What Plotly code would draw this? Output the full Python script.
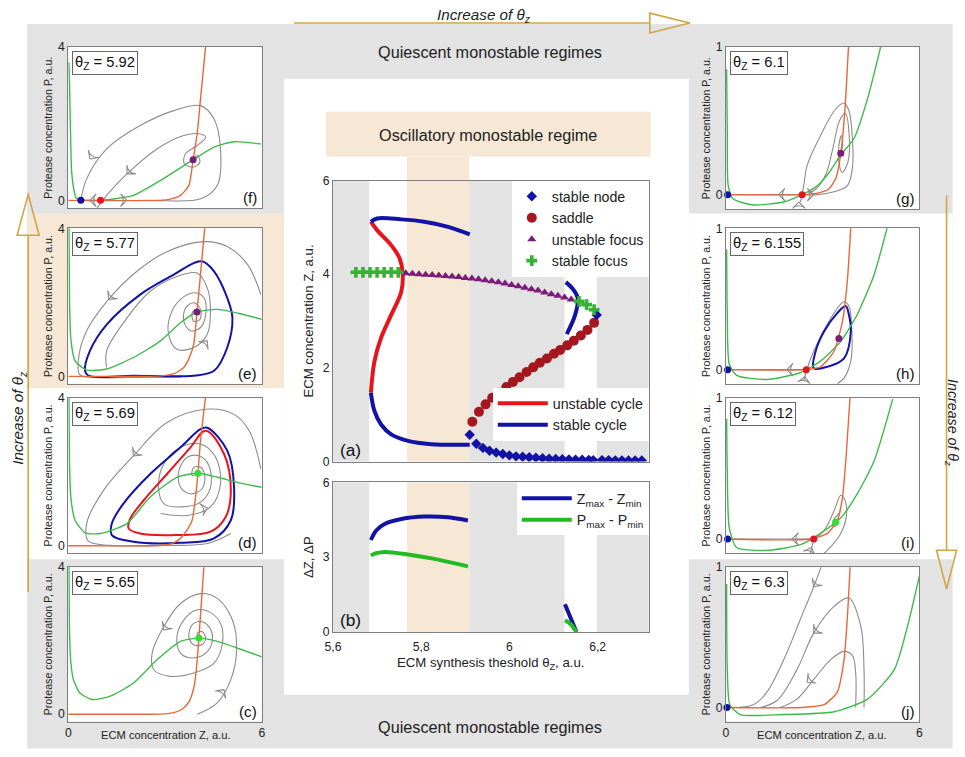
import plotly.graph_objects as go

# ---------------- (a) bifurcation diagram ----------------
theta_node = [5.91, 5.925, 5.94, 5.955, 5.97, 5.985, 6.0, 6.015, 6.03, 6.045, 6.06, 6.075, 6.09, 6.105,
              6.12, 6.135, 6.15, 6.165, 6.18, 6.19, 6.21, 6.225, 6.24, 6.255, 6.27, 6.285, 6.30, 6.198]
Z_node = [0.57, 0.38, 0.29, 0.23, 0.19, 0.16, 0.13, 0.11, 0.10, 0.09, 0.08, 0.07, 0.06, 0.055,
          0.05, 0.045, 0.04, 0.04, 0.035, 0.03, 0.03, 0.03, 0.025, 0.025, 0.02, 0.02, 0.02, 3.13]
theta_saddle = [5.916, 5.931, 5.946, 5.961, 5.977, 5.993, 6.008, 6.023, 6.039, 6.054, 6.069, 6.085,
                6.101, 6.115, 6.131, 6.146, 6.162, 6.177, 6.192]
Z_saddle = [0.85, 1.06, 1.22, 1.36, 1.47, 1.59, 1.70, 1.80, 1.91, 2.01, 2.11, 2.20, 2.30, 2.38, 2.48,
            2.58, 2.69, 2.81, 2.96]
theta_ufocus = [5.765, 5.78, 5.795, 5.81, 5.825, 5.84, 5.855, 5.87, 5.885, 5.90, 5.915, 5.93, 5.945,
                5.96, 5.975, 5.99, 6.005, 6.02, 6.035, 6.05, 6.065, 6.08, 6.095, 6.11, 6.125, 6.14]
Z_ufocus = [4.02, 4.01, 4.0, 3.99, 3.98, 3.97, 3.96, 3.95, 3.94, 3.92, 3.91, 3.89, 3.87, 3.85, 3.83,
            3.80, 3.77, 3.74, 3.71, 3.68, 3.65, 3.61, 3.57, 3.54, 3.50, 3.46]
theta_sfocus = [5.652, 5.668, 5.684, 5.700, 5.716, 5.732, 5.748, 6.158, 6.175, 6.192]
Z_sfocus = [4.04, 4.04, 4.04, 4.04, 4.04, 4.04, 4.04, 3.42, 3.35, 3.24]
theta_scycle = [5.686, 5.70, 5.755, 5.807, 5.861, 5.91, None,
                5.686, 5.694, 5.709, 5.732, 5.77, 5.823, 5.91, None,
                6.128, 6.145, 6.155, 6.149, 6.13]
Z_scycle = [5.12, 5.19, 5.17, 5.12, 5.01, 4.85, None,
            1.47, 1.08, 0.79, 0.58, 0.44, 0.37, 0.36, None,
            3.83, 3.67, 3.49, 3.13, 2.72]
theta_ucycle = [5.686, 5.70, 5.732, 5.751, 5.758, 5.755, 5.732, 5.709, 5.694, 5.686]
Z_ucycle = [5.12, 4.94, 4.62, 4.34, 4.02, 3.63, 3.13, 2.64, 2.14, 1.47]

# ---------------- (b) amplitudes ----------------
theta_dZ = [5.686, 5.698, 5.717, 5.755, 5.808, 5.861, 5.906, None, 6.126, 6.141, 6.152]
dZ = [3.69, 4.07, 4.33, 4.53, 4.63, 4.60, 4.47, None, 1.11, 0.47, 0.0]
theta_dP = [5.686, 5.698, 5.717, 5.77, 5.83, 5.906, None, 6.126, 6.138, 6.152]
dP = [3.07, 3.16, 3.21, 3.11, 2.93, 2.63, None, 0.47, 0.33, 0.0]

# regime boundaries on theta axis
gray_regimes = [(5.6, 5.682), (5.909, 6.125), (6.198, 6.316)]
beige_regime = (5.768, 5.909)
theta_ticks = [5.6, 5.8, 6.0, 6.2]
theta_ticktext = ["5,6", "5,8", "6", "6,2"]

# ---------------- phase portraits ----------------
# (c) theta = 5.65
c_orange_Z = [0, 2.5, 3.0, 3.3, 3.55, 3.75, 3.9, 3.97, 4.05, 4.22]
c_orange_P = [0, 0, 0.01, 0.05, 0.15, 0.35, 0.75, 1.21, 2.07, 4.2]
c_green_Z = [0.02, 0.04, 0.08, 0.16, 0.36, 0.73, 1.3, 2.02, 2.75, 3.48, 4.05, 4.62, 5.3, 6.0]
c_green_P = [4.2, 2.2, 1.4, 0.94, 0.58, 0.40, 0.49, 0.85, 1.48, 1.98, 2.07, 1.98, 1.78, 1.56]
c_traj_Z = [4.0, 4.62, 5.04, 5.22, 5.09, 4.62, 4.10, 3.48, 2.96, 2.60, 2.65, 3.17, 3.89, 4.52, 4.78,
            4.72, 4.36, 3.95, 3.58, 3.37, 3.48, 3.84, 4.26, 4.47, 4.36, 4.10, 3.84, 3.74, 3.89, 4.15,
            4.26, 4.15, 4.0, 4.05]
c_traj_P = [0, 0.31, 0.94, 1.75, 2.56, 3.15, 3.28, 3.01, 2.38, 1.66, 1.21, 1.03, 1.12, 1.39, 1.93,
            2.47, 2.79, 2.83, 2.56, 2.11, 1.66, 1.53, 1.66, 2.02, 2.38, 2.52, 2.43, 2.11, 1.89, 1.89,
            2.07, 2.25, 2.20, 2.07]
c_fixed_Z = [4.05]
c_fixed_P = [2.07]
c_arrow_Z = [4.83, 2.96]
c_arrow_P = [0.67, 2.29]
c_arrow_ang = [35, 215]

# (d) theta = 5.69
d_orange_Z = [0, 2.5, 2.96, 3.25, 3.48, 3.7, 3.84, 3.93, 4.02, 4.1, 4.28]
d_orange_P = [0, 0, 0.02, 0.07, 0.2, 0.45, 0.69, 1.2, 1.96, 2.84, 4.2]
d_green_Z = [0.02, 0.04, 0.08, 0.21, 0.52, 0.99, 1.82, 2.54, 3.37, 4.02, 4.62, 5.3, 6.0]
d_green_P = [4.2, 2.2, 1.3, 0.69, 0.35, 0.33, 0.6, 1.32, 1.85, 1.96, 1.85, 1.7, 1.58]
d_scycle_Z = [4.31, 4.93, 5.14, 5.04, 4.52, 3.48, 2.02, 1.35, 1.35, 1.71, 2.54, 3.48, 4.10, 4.31]
d_scycle_P = [3.19, 2.57, 1.58, 0.69, 0.20, 0.08, 0.11, 0.29, 0.60, 1.14, 1.94, 2.66, 3.15, 3.19]
d_ucycle_Z = [4.26, 4.83, 5.04, 4.88, 4.41, 3.37, 2.23, 1.87, 1.92, 2.34, 3.06, 3.79, 4.26]
d_ucycle_P = [3.11, 2.48, 1.49, 0.78, 0.38, 0.29, 0.33, 0.47, 0.73, 1.23, 1.94, 2.66, 3.11]
d_traj_Z = [5.97, 5.61, 5.14, 4.26, 3.06, 2.02, 1.09, 0.57, 0.62, 1.30, 3.06, 4.31, 5.04, None,
            2.86, 3.69, 4.41, 4.72, 4.57, 4.10, 3.48, 2.96, 2.80, 2.96, 3.48, 4.10, 4.41, 4.36, 4.05,
            3.69, 3.43, 3.48, 3.79, 4.15, 4.23, 4.10, 3.89, 3.84, 4.02]
d_traj_P = [2.08, 3.11, 3.55, 3.69, 3.33, 2.43, 1.49, 0.60, 0.13, 0.01, 0.01, 0.06, 0.33, None,
            0.87, 0.82, 1.05, 1.67, 2.39, 2.75, 2.66, 2.21, 1.58, 1.14, 1.05, 1.18, 1.58, 2.17, 2.43,
            2.39, 2.03, 1.58, 1.40, 1.54, 1.90, 2.12, 2.12, 1.90, 1.96]
d_fixed_Z = [4.02]
d_fixed_P = [1.96]
d_arrow_Z = [2.02, 4.31]
d_arrow_P = [2.43, 1.02]
d_arrow_ang = [220, 75]

# (e) theta = 5.77
e_orange_Z = [0, 2.5, 2.96, 3.3, 3.58, 3.75, 3.89, 3.99, 4.1, 4.25]
e_orange_P = [0, 0, 0.02, 0.08, 0.24, 0.5, 0.87, 1.74, 2.75, 4.2]
e_green_Z = [0.02, 0.04, 0.08, 0.21, 0.57, 1.19, 2.02, 2.86, 3.48, 3.99, 4.62, 5.3, 6.0]
e_green_P = [4.2, 2.0, 1.0, 0.42, 0.17, 0.2, 0.51, 0.96, 1.45, 1.74, 1.81, 1.7, 1.54]
e_scycle_Z = [4.15, 4.52, 4.93, 5.09, 4.93, 4.52, 3.89, 2.02, 0.62, 0.52, 0.67, 1.19, 2.23, 3.27, 3.89, 4.15]
e_scycle_P = [3.11, 2.84, 2.12, 1.58, 0.78, 0.15, 0.02, 0.02, 0.02, 0.15, 0.69, 1.40, 2.21, 2.75, 3.06, 3.11]
e_traj_Z = [5.97, 5.56, 4.93, 4.21, 3.06, 2.13, 1.25, 0.57, 0.31, 0.36, 0.8, 2.0, 3.5, None,
            1.19, 1.19, 1.82, 2.54, 3.37, 4.0, 4.31, 4.41, 4.31, 3.89, 3.37, 3.11, 3.17, 3.48, 3.89,
            4.21, 4.26, 4.10, 3.79, 3.58, 3.64, 3.89, 4.10, 4.08, 3.89, 3.84, 4.0, 3.99]
e_traj_P = [2.21, 3.02, 3.51, 3.64, 3.37, 2.84, 2.08, 1.23, 0.42, 0.04, -0.03, -0.03, -0.02, None,
            0.24, 0.69, 1.58, 2.30, 2.70, 2.79, 2.39, 1.76, 1.14, 0.78, 0.73, 1.14, 1.67, 2.08, 2.26,
            2.12, 1.67, 1.32, 1.23, 1.49, 1.85, 1.99, 1.81, 1.54, 1.49, 1.72, 1.81, 1.74]
e_fixed_Z = [3.99]
e_fixed_P = [1.74]
e_arrow_Z = [1.25, 4.31]
e_arrow_P = [2.08, 0.96]
e_arrow_ang = [220, 40]

# (f) theta = 5.92
f_orange_Z = [0, 2.8, 3.2, 3.48, 3.74, 3.87, 4.0, 4.1, 4.28]
f_orange_P = [0, 0, 0.04, 0.13, 0.39, 1.06, 1.77, 2.64, 4.2]
f_green_Z = [0.02, 0.04, 0.07, 0.1, 0.18, 0.26, 0.99, 2.02, 2.86, 3.87, 4.52, 5.14, 5.97]
f_green_P = [3.6, 3.0, 1.77, 0.8, 0.25, 0.04, 0.0, 0.13, 0.52, 1.06, 1.39, 1.53, 1.47]
f_traj_Z = [1.0, 2.54, 4.10, 4.62, 4.72, 4.52, 4.10, 3.27, 2.23, 1.19, 0.57, 0.39, None,
            3.87, 4.0, 4.08, 3.89, 3.60, 3.63, 4.0, 4.26, 4.10, 3.58, 2.75, 1.82, 1.19, 0.88, None,
            1.0, 0.39]
f_traj_P = [0, 0, 0.04, 0.39, 1.34, 2.12, 2.47, 2.34, 1.95, 1.34, 0.56, 0.0, None,
            1.06, 1.17, 1.0, 0.87, 0.95, 1.21, 1.43, 1.65, 1.73, 1.69, 1.34, 0.69, 0.13, -0.22, None,
            0, 0]
f_fixed_Z = [0.39, 1.0, 3.87]
f_fixed_P = [0, 0, 1.06]
f_fixed_kind = ["node", "saddle", "ufocus"]
f_arrow_Z = [0.67, 1.82, 0.67, 1.82]
f_arrow_P = [1.08, 0.69, 0.0, 0.0]
f_arrow_ang = [215, 225, 270, 90]

# (g) theta = 6.1
g_orange_Z = [0, 2.31, 2.83, 3.2, 3.42, 3.56, 3.68, 3.81]
g_orange_P = [0, 0, 0.01, 0.04, 0.12, 0.28, 0.55, 1.05]
g_green_Z = [0.02, 0.04, 0.07, 0.23, 0.85, 1.79, 2.36, 2.83, 3.2, 3.56, 3.97, 4.39, 4.85]
g_green_P = [0.85, 0.42, 0.06, -0.03, -0.07, -0.05, 0.0, 0.06, 0.15, 0.27, 0.38, 0.65, 1.05]
g_traj_Z = [2.36, 2.83, 3.35, 3.76, 3.92, 3.92, 3.81, 3.66, 3.40, 2.93, 2.52, 2.41, 2.31, None,
            3.56, 3.62, 3.58, 3.50, 3.50, 3.60, 3.78, 3.82, 3.70, 3.52, 3.30, 3.10, 2.80, 2.55, None,
            2.36, 0.05]
g_traj_P = [0, 0, 0.02, 0.06, 0.18, 0.38, 0.57, 0.62, 0.58, 0.40, 0.20, 0.06, -0.05, None,
            0.28, 0.34, 0.40, 0.33, 0.22, 0.15, 0.22, 0.40, 0.55, 0.50, 0.30, 0.14, 0.04, 0.01, None,
            0, 0]
g_fixed_Z = [0.05, 2.36, 3.56]
g_fixed_P = [0, 0, 0.28]
g_fixed_kind = ["node", "saddle", "ufocus"]
g_arrow_Z = [1.63, 2.72, 2.26]
g_arrow_P = [0, 0, -0.05]
g_arrow_ang = [270, 90, 0]

# (h) theta = 6.155
h_orange_Z = [0, 2.41, 2.93, 3.35, 3.61, 3.76, 3.88]
h_orange_P = [0, 0, 0.02, 0.13, 0.34, 0.62, 1.05]
h_green_Z = [0.02, 0.04, 0.10, 0.33, 1.27, 2.31, 2.93, 3.56, 4.07, 4.59, 5.05]
h_green_P = [0.85, 0.39, 0.04, -0.04, -0.07, -0.02, 0.06, 0.20, 0.39, 0.67, 1.05]
h_scycle_Z = [2.72, 3.14, 3.66, 3.87, 3.81, 3.71, 3.45, 3.04, 2.78, 2.72]
h_scycle_P = [0.01, 0.02, 0.08, 0.27, 0.39, 0.45, 0.40, 0.27, 0.13, 0.01]
h_traj_Z = [2.41, 2.52, 2.72, 3.24, 3.66, 3.81, 3.90, 3.87, 3.66, 3.45, None, 2.49, 0.05]
h_traj_P = [-0.08, 0.01, 0.13, 0.36, 0.48, 0.45, 0.29, 0.06, -0.06, -0.1, None, 0, 0]
h_fixed_Z = [0.05, 2.49, 3.50]
h_fixed_P = [0, 0, 0.22]
h_fixed_kind = ["node", "saddle", "ufocus"]
h_arrow_Z = [1.88, 2.45]
h_arrow_P = [0, -0.05]
h_arrow_ang = [270, 10]

# (i) theta = 6.12
i_orange_Z = [0, 2.62, 3.14, 3.45, 3.61, 3.73, 3.86]
i_orange_P = [0, 0, 0.04, 0.13, 0.29, 0.60, 1.05]
i_green_Z = [0.02, 0.04, 0.10, 0.33, 1.27, 2.31, 2.93, 3.56, 4.07, 4.59, 5.17]
i_green_P = [0.85, 0.48, 0.08, -0.06, -0.08, -0.04, 0.04, 0.15, 0.32, 0.55, 0.99]
i_traj_Z = [2.72, 3.04, 3.35, 3.56, 3.66, 3.74, 3.56, 3.14, 3.04, None, 2.72, 0.05, None,
            2.62, 2.72, None, 3.56, 3.50, 3.35, 3.32, 3.45, 3.48, 3.40]
i_traj_P = [0, 0.06, 0.20, 0.31, 0.29, 0.18, 0.04, -0.08, -0.1, None, 0, 0, None,
            -0.1, 0, None, 0.22, 0.18, 0.14, 0.09, 0.10, 0.14, 0.12]
i_fixed_Z = [0.05, 2.72, 3.40]
i_fixed_P = [0, 0, 0.12]
i_fixed_kind = ["node", "saddle", "sfocus"]
i_arrow_Z = [2.05, 2.65]
i_arrow_P = [0, -0.06]
i_arrow_ang = [270, 20]

# (j) theta = 6.3
j_orange_Z = [0, 2.31, 3.04, 3.45, 3.66, 3.76, 3.86]
j_orange_P = [0, 0, 0.02, 0.11, 0.34, 0.63, 1.05]
j_green_Z = [0.02, 0.04, 0.12, 0.44, 1.79, 3.35, 4.39, 5.22, 5.63, 6.0]
j_green_P = [0.88, 0.27, 0.02, -0.05, -0.05, -0.03, 0.06, 0.27, 0.58, 0.94]
j_traj_Z = [2.95, 2.72, 2.31, 1.79, 1.27, 0.85, 0.03, None,
            4.28, 4.28, 4.18, 3.81, 3.35, 2.72, 2.20, 1.58, 1.06, None,
            4.02, 4.02, 3.92, 3.66, 3.24, 2.72, 2.20, 1.68]
j_traj_P = [1.0, 0.86, 0.63, 0.34, 0.11, 0.02, 0, None,
            0, 0.27, 0.58, 0.78, 0.72, 0.53, 0.27, 0.05, 0, None,
            0, 0.25, 0.37, 0.40, 0.34, 0.20, 0.06, 0]
j_fixed_Z = [0.03]
j_fixed_P = [0]
j_fixed_kind = ["node"]
j_arrow_Z = [2.72, 2.72, 2.52]
j_arrow_P = [0.86, 0.53, 0.18]
j_arrow_ang = [215, 225, 230]

panel_theta = {"c": "5.65", "d": "5.69", "e": "5.77", "f": "5.92",
               "g": "6.1", "h": "6.155", "i": "6.12", "j": "6.3"}

# ---------------- styling / layout helpers ----------------
FONT = "Liberation Sans, Arial, sans-serif"
W, H = 965, 757
# the photographed page shows the figure behind the default 8px body margin and
# slightly reduced; window-pixel positions are mapped back to figure pixels
OFF = 8
SCALE = 0.985
BLUE = "#1212a6"
RED = "#e8141c"
DRED = "#a5171f"
PURPLE = "#7b1c7b"
GREENM = "#36b236"
GREENL = "#22bb22"
NGREEN = "#3dbb4a"
ORANGE = "#e8673a"
GRAY = "#8c8c8c"
GOLD = "#d2a547"
BGGRAY = "#e3e3e3"
BEIGE = "#f6e8d4"


def fx(p):
    return (p / SCALE - OFF) / W


def fy(p):
    return 1 - (p / SCALE - OFF) / H


def fs(s):
    return s / SCALE


# panel name -> (axis number, left, right, top, bottom) in window pixels
BOX = {
    "a": (1, 332, 647, 182, 464),
    "b": (2, 332, 647, 485, 635),
    "f": (3, 68, 261, 48, 210),
    "e": (4, 68, 261, 230, 386),
    "d": (5, 68, 261, 400, 556),
    "c": (6, 68, 261, 570, 725),
    "g": (7, 724, 917, 48, 211),
    "h": (8, 724, 917, 230, 386),
    "i": (9, 724, 917, 400, 556),
    "j": (10, 724, 917, 570, 725),
}


def axn(n):
    return ("x" if n == 1 else f"x{n}", "y" if n == 1 else f"y{n}")


fig = go.Figure()


def add(panel, **kw):
    xa, ya = axn(BOX[panel][0])
    kw.setdefault("showlegend", False)
    kw.setdefault("hoverinfo", "skip")
    fig.add_trace(go.Scatter(xaxis=xa, yaxis=ya, **kw))


# ---- panel (a) ----
add("a", x=theta_ucycle, y=Z_ucycle, mode="lines", line=dict(color=RED, width=4, shape="spline"),
    name="unstable cycle", showlegend=True, legend="legend2", legendrank=1)
add("a", x=theta_scycle, y=Z_scycle, mode="lines", line=dict(color=BLUE, width=4, shape="spline"),
    name="stable cycle", showlegend=True, legend="legend2", legendrank=2, connectgaps=False)
add("a", x=theta_saddle, y=Z_saddle, mode="markers", marker=dict(symbol="circle", size=10, color=DRED),
    name="saddle", showlegend=True, legend="legend", legendrank=2)
add("a", x=theta_node, y=Z_node, mode="markers", marker=dict(symbol="diamond", size=8, color=BLUE),
    name="stable node", showlegend=True, legend="legend", legendrank=1)
add("a", x=theta_ufocus, y=Z_ufocus, mode="markers",
    marker=dict(symbol="triangle-up", size=8, color=PURPLE),
    name="unstable focus", showlegend=True, legend="legend", legendrank=3)
add("a", x=theta_sfocus, y=Z_sfocus, mode="markers", marker=dict(symbol="cross", size=9, color=GREENM),
    name="stable focus", showlegend=True, legend="legend", legendrank=4)

# ---- panel (b) ----
add("b", x=theta_dZ, y=dZ, mode="lines", line=dict(color=BLUE, width=4, shape="spline"),
    name="Z<sub>max</sub> - Z<sub>min</sub>", showlegend=True, legend="legend3", legendrank=1)
add("b", x=theta_dP, y=dP, mode="lines", line=dict(color=GREENL, width=4, shape="spline"),
    name="P<sub>max</sub> - P<sub>min</sub>", showlegend=True, legend="legend3", legendrank=2)

# ---- phase portraits ----
FP_COLOR = {"node": BLUE, "saddle": RED, "ufocus": PURPLE, "sfocus": "#33dd33"}
phase = {
    "c": dict(o=(c_orange_Z, c_orange_P), g=(c_green_Z, c_green_P), t=(c_traj_Z, c_traj_P),
              fp=(c_fixed_Z, c_fixed_P, ["sfocus"]), ar=(c_arrow_Z, c_arrow_P, c_arrow_ang)),
    "d": dict(o=(d_orange_Z, d_orange_P), g=(d_green_Z, d_green_P), t=(d_traj_Z, d_traj_P),
              sc=(d_scycle_Z, d_scycle_P), uc=(d_ucycle_Z, d_ucycle_P),
              fp=(d_fixed_Z, d_fixed_P, ["sfocus"]), ar=(d_arrow_Z, d_arrow_P, d_arrow_ang)),
    "e": dict(o=(e_orange_Z, e_orange_P), g=(e_green_Z, e_green_P), t=(e_traj_Z, e_traj_P),
              sc=(e_scycle_Z, e_scycle_P),
              fp=(e_fixed_Z, e_fixed_P, ["ufocus"]), ar=(e_arrow_Z, e_arrow_P, e_arrow_ang)),
    "f": dict(o=(f_orange_Z, f_orange_P), g=(f_green_Z, f_green_P), t=(f_traj_Z, f_traj_P),
              fp=(f_fixed_Z, f_fixed_P, f_fixed_kind), ar=(f_arrow_Z, f_arrow_P, f_arrow_ang)),
    "g": dict(o=(g_orange_Z, g_orange_P), g=(g_green_Z, g_green_P), t=(g_traj_Z, g_traj_P),
              fp=(g_fixed_Z, g_fixed_P, g_fixed_kind), ar=(g_arrow_Z, g_arrow_P, g_arrow_ang)),
    "h": dict(o=(h_orange_Z, h_orange_P), g=(h_green_Z, h_green_P), t=(h_traj_Z, h_traj_P),
              sc=(h_scycle_Z, h_scycle_P),
              fp=(h_fixed_Z, h_fixed_P, h_fixed_kind), ar=(h_arrow_Z, h_arrow_P, h_arrow_ang)),
    "i": dict(o=(i_orange_Z, i_orange_P), g=(i_green_Z, i_green_P), t=(i_traj_Z, i_traj_P),
              fp=(i_fixed_Z, i_fixed_P, i_fixed_kind), ar=(i_arrow_Z, i_arrow_P, i_arrow_ang)),
    "j": dict(o=(j_orange_Z, j_orange_P), g=(j_green_Z, j_green_P), t=(j_traj_Z, j_traj_P),
              fp=(j_fixed_Z, j_fixed_P, j_fixed_kind), ar=(j_arrow_Z, j_arrow_P, j_arrow_ang)),
}

for p, d in phase.items():
    add(p, x=d["t"][0], y=d["t"][1], mode="lines",
        line=dict(color=GRAY, width=1.1, shape="spline", smoothing=1.0), connectgaps=False)
    if "sc" in d:
        add(p, x=d["sc"][0], y=d["sc"][1], mode="lines",
            line=dict(color=BLUE, width=2, shape="spline", smoothing=1.0))
    if "uc" in d:
        add(p, x=d["uc"][0], y=d["uc"][1], mode="lines",
            line=dict(color=RED, width=2, shape="spline", smoothing=1.0))
    add(p, x=d["g"][0], y=d["g"][1], mode="lines",
        line=dict(color=NGREEN, width=1.4, shape="spline", smoothing=0.6))
    add(p, x=d["o"][0], y=d["o"][1], mode="lines",
        line=dict(color=ORANGE, width=1.4, shape="spline", smoothing=0.6))
    add(p, x=d["ar"][0], y=d["ar"][1], mode="markers",
        marker=dict(symbol="arrow-wide-open", size=9, angle=d["ar"][2], color=GRAY,
                    line=dict(color=GRAY, width=1.1)))
    add(p, x=d["fp"][0], y=d["fp"][1], mode="markers", cliponaxis=False,
        marker=dict(symbol="circle", size=7, color=[FP_COLOR[k] for k in d["fp"][2]]))

# ---------------- axes ----------------
layout_axes = {}
common = dict(showline=True, mirror=True, linecolor="#7f7f7f", linewidth=1, showgrid=False,
              zeroline=False, ticks="", tickfont=dict(size=fs(12), color="#222", family=FONT),
              fixedrange=True)
for name, (n, l, r, t, b) in BOX.items():
    xk = "xaxis" if n == 1 else f"xaxis{n}"
    yk = "yaxis" if n == 1 else f"yaxis{n}"
    xa, ya = axn(n)
    xd = dict(common, domain=[fx(l), fx(r)], anchor=ya)
    yd = dict(common, domain=[fy(b), fy(t)], anchor=xa)
    if name in ("a", "b"):
        xd.update(range=[5.6, 6.316], tickvals=theta_ticks, ticktext=theta_ticktext,
                  showticklabels=(name == "b"), ticklabelstandoff=3)
        if name == "a":
            yd.update(range=[0, 6], tickvals=[0, 2, 4, 6],
                      title=dict(text="ECM concentration Z, a.u.",
                                 font=dict(size=fs(13), family=FONT, color="#222"), standoff=6))
        else:
            yd.update(range=[0, 6], tickvals=[0, 3, 6],
                      title=dict(text="ΔZ, ΔP", font=dict(size=fs(13), family=FONT, color="#222"),
                                 standoff=6))
    else:
        left = name in ("c", "d", "e", "f")
        xd.update(range=[0, 6], tickvals=[0, 6], showticklabels=(name in ("c", "j")))
        if left:
            yd.update(range=[-0.2 if name != "f" else -0.21, 4], tickvals=[0, 4])
        else:
            yd.update(range=[-0.1, 1], tickvals=[0, 1])
        yd.update(title=dict(text="Protease concentration P, a.u.",
                             font=dict(size=fs(10.5), family=FONT, color="#222"), standoff=3))
    layout_axes[xk] = xd
    layout_axes[yk] = yd

# ---------------- background shapes ----------------
shapes = []


def rect(x0, y0, x1, y1, color, **kw):
    d = dict(type="rect", xref="paper", yref="paper", x0=fx(x0), x1=fx(x1), y0=fy(y1), y1=fy(y0),
             fillcolor=color, line=dict(width=0), layer="below")
    d.update(kw)
    shapes.append(d)


rect(27, 25, 950, 752, BGGRAY)
rect(283, 80, 687, 698, "white")
rect(27, 390, 283, 562, "white")
rect(687, 215, 950, 562, "white")
rect(27, 215, 283, 390, BEIGE)
rect(325, 113, 649, 158, BEIGE)
# beige column from header into panel (a)
shapes.append(dict(type="rect", xref="x", yref="paper", x0=beige_regime[0], x1=beige_regime[1],
                   y0=fy(464), y1=fy(158), fillcolor=BEIGE, line=dict(width=0), layer="below"))
# white plot areas of phase portraits
for name, (n, l, r, t, b) in BOX.items():
    if name not in ("a", "b"):
        rect(l, t, r, b, "white")
# regime bands inside (a) and (b)
for xa, ya in (("x", "y"), ("x2", "y2")):
    for g0, g1 in gray_regimes:
        shapes.append(dict(type="rect", xref=xa, yref=ya + " domain", x0=g0, x1=g1, y0=0, y1=1,
                           fillcolor=BGGRAY, line=dict(width=0), layer="below"))
shapes.append(dict(type="rect", xref="x2", yref="y2 domain", x0=beige_regime[0], x1=beige_regime[1],
                   y0=0, y1=1, fillcolor=BEIGE, line=dict(width=0), layer="below"))

# arrows "Increase of theta"
def path(pts, closed=True):
    s = "M " + " L ".join(f"{fx(x):.5f},{fy(y):.5f}" for x, y in pts)
    return s + (" Z" if closed else "")


arrow_line = dict(color=GOLD, width=1.6)
shapes += [
    dict(type="line", xref="paper", yref="paper", x0=fx(293), x1=fx(648), y0=fy(24), y1=fy(24), line=arrow_line),
    dict(type="path", xref="paper", yref="paper", path=path([(648, 14), (688, 24), (648, 34)]), line=arrow_line),
    dict(type="line", xref="paper", yref="paper", x0=fx(28), x1=fx(28), y0=fy(595), y1=fy(237), line=arrow_line),
    dict(type="path", xref="paper", yref="paper", path=path([(17, 237), (28, 196), (39, 237)]), line=arrow_line),
    dict(type="line", xref="paper", yref="paper", x0=fx(944), x1=fx(944), y0=fy(197), y1=fy(553), line=arrow_line),
    dict(type="path", xref="paper", yref="paper", path=path([(934, 553), (944, 592), (954, 553)]), line=arrow_line),
]

# ---------------- annotations ----------------
ann = []


def text(x, y, s, size=16, **kw):
    d = dict(xref="paper", yref="paper", x=fx(x), y=fy(y), text=s, showarrow=False,
             xanchor="center", yanchor="middle",
             font=dict(size=fs(size), family=FONT, color="#222"))
    d.update(kw)
    ann.append(d)


text(483, 16, "<i>Increase of θ<sub>z</sub></i>", 15)
text(19, 420, "<i>Increase of θ<sub>z</sub></i>", 15, textangle=-90)
text(950, 425, "<i>Increase of θ<sub>z</sub></i>", 14, textangle=90)
text(489, 53, "Quiescent monostable regimes", 16)
text(489, 730, "Quiescent monostable regimes", 16)
text(487, 136, "Oscillatory monostable regime", 16)
text(489, 667, "ECM synthesis theshold θ<sub>Z</sub>, a.u.", 13)
text(165, 738, "ECM concentration Z, a.u.", 11)
text(820, 738, "ECM concentration Z, a.u.", 11)

for name, (n, l, r, t, b) in BOX.items():
    xa, ya = axn(n)
    ann.append(dict(xref=xa + " domain", yref=ya + " domain", x=0.015 if name in ("a", "b") else 0.985,
                    y=0.0, xanchor="left" if name in ("a", "b") else "right", yanchor="bottom",
                    text=f"({name})", showarrow=False,
                    font=dict(size=fs(17 if name in ("a", "b") else 15), family=FONT, color="#111")))
    if name in panel_theta:
        ann.append(dict(xref=xa + " domain", yref=ya + " domain", x=0.02, y=0.975,
                        xanchor="left", yanchor="top", showarrow=False,
                        text=f"θ<sub>Z</sub> = {panel_theta[name]}",
                        font=dict(size=fs(14.5), family=FONT, color="#111"),
                        bgcolor="white", bordercolor="#666", borderwidth=1, borderpad=2))

legend_common = dict(bgcolor="white", borderwidth=0, font=dict(size=fs(14), family=FONT, color="#222"),
                     tracegroupgap=0, xanchor="right")

fig.update_layout(
    width=W, height=H, margin=dict(l=0, r=0, t=0, b=0),
    paper_bgcolor="white", plot_bgcolor="rgba(0,0,0,0)",
    font=dict(family=FONT, color="#222"),
    shapes=shapes, annotations=ann,
    legend=dict(legend_common, x=fx(647), y=fy(182), yanchor="top", itemwidth=30),
    legend2=dict(legend_common, x=fx(647), y=fy(443), yanchor="bottom", itemwidth=50),
    legend3=dict(legend_common, x=fx(647), y=fy(485), yanchor="top", itemwidth=50),
    **layout_axes,
)

fig.write_html("out.html")
